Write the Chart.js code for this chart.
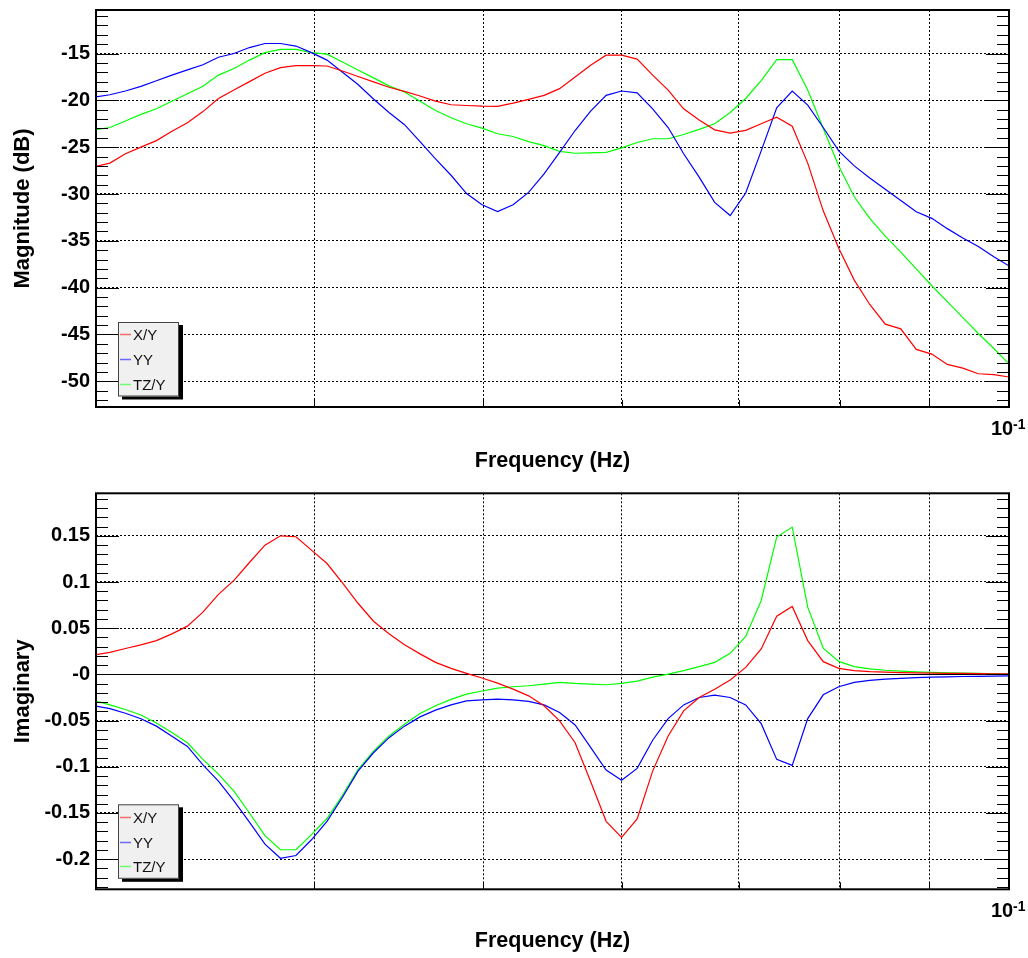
<!DOCTYPE html>
<html><head><meta charset="utf-8">
<script src="https://cdn.jsdelivr.net/npm/chart.js@4/dist/chart.umd.min.js"></script>
<style>
html,body{margin:0;padding:0;background:#fff;width:1028px;height:958px;overflow:hidden;}
canvas{display:block;position:absolute;left:0;}
#c1{top:0;}
#c2{top:480px;}
</style></head><body>
<canvas id="c1" width="1028" height="480"></canvas>
<canvas id="c2" width="1028" height="478"></canvas>
<script>
// ---- data ----
const freqHz = [0.029936,0.030554,0.031186,0.031830,0.032488,0.033159,0.033844,0.034543,0.035257,0.035985,
0.036728,0.037487,0.038262,0.039052,0.039859,0.040683,0.041523,0.042381,0.043256,0.044150,
0.045062,0.045993,0.046943,0.047913,0.048903,0.049913,0.050945,0.051997,0.053072,0.054168,
0.055287,0.056430,0.057596,0.058786,0.060000,0.061240,0.062505,0.063796,0.065114,0.066460,
0.067833,0.069234,0.070665,0.072125,0.073615,0.075136,0.076688,0.078273,0.079890,0.081541,
0.083225,0.084945,0.086700,0.088491,0.090320,0.092186,0.094091,0.096035,0.098019,0.100044];

const magXY = [-27.1,-26.7,-25.7,-25.0,-24.3,-23.3,-22.4,-21.2,-19.8,-18.9,
-18.0,-17.1,-16.5,-16.3,-16.3,-16.33,-16.87,-17.45,-18.03,-18.6,
-19.04,-19.54,-20.08,-20.47,-20.55,-20.62,-20.65,-20.3,-19.9,-19.47,
-18.75,-17.5,-16.25,-15.18,-15.18,-15.6,-17.3,-18.9,-20.9,-22.1,
-23.15,-23.5,-23.2,-22.5,-21.8,-22.76,-26.7,-31.8,-35.8,-39.2,
-41.8,-43.9,-44.4,-46.6,-47.1,-48.2,-48.6,-49.2,-49.3,-49.55];

const magYY = [-19.65,-19.4,-19.0,-18.5,-17.9,-17.3,-16.75,-16.2,-15.4,-15.0,
-14.36,-13.93,-13.93,-14.2,-14.9,-15.7,-17.0,-18.3,-19.85,-21.3,
-22.6,-24.4,-26.25,-28.0,-29.95,-31.15,-31.87,-31.15,-29.83,-27.86,
-25.55,-23.22,-21.15,-19.47,-19.0,-19.2,-20.9,-22.9,-25.7,-28.2,
-30.9,-32.3,-29.9,-25.4,-20.8,-19.0,-20.5,-22.9,-25.4,-27.0,
-28.3,-29.5,-30.7,-31.9,-32.6,-33.7,-34.7,-35.6,-36.7,-37.7];

const magTZY = [-23.15,-22.9,-22.2,-21.5,-20.9,-20.1,-19.3,-18.5,-17.3,-16.6,
-15.7,-14.9,-14.55,-14.55,-14.9,-15.07,-15.9,-16.75,-17.6,-18.45,
-19.1,-20.1,-21.08,-21.86,-22.5,-22.97,-23.57,-23.86,-24.4,-24.83,
-25.44,-25.65,-25.6,-25.55,-25.08,-24.5,-24.1,-24.1,-23.65,-23.1,
-22.5,-21.3,-19.8,-17.9,-15.65,-15.65,-18.9,-23.0,-27.0,-30.3,
-32.6,-34.5,-36.2,-38.0,-39.8,-41.5,-43.2,-44.9,-46.5,-48.2];

const imXY = [0.021,0.0239,0.028,0.032,0.0366,0.0439,0.0522,0.0674,0.0866,0.1018,
0.1211,0.1399,0.150,0.149,0.1345,0.120,0.099,0.077,0.0575,0.044,
0.032,0.0222,0.013,0.0065,0.0011,-0.0039,-0.0094,-0.0159,-0.0232,-0.034,
-0.0503,-0.0739,-0.116,-0.159,-0.1764,-0.1565,-0.1047,-0.0666,-0.0395,-0.025,
-0.016,-0.006,0.0076,0.0276,0.063,0.0736,0.0366,0.0138,0.0065,0.004,
0.003,0.0025,0.002,0.0017,0.0014,0.0012,0.001,0.0008,0.0007,0.0006];

const imYY = [-0.034,-0.037,-0.042,-0.048,-0.056,-0.067,-0.078,-0.098,-0.1155,-0.137,
-0.160,-0.1837,-0.199,-0.196,-0.179,-0.159,-0.133,-0.1047,-0.0848,-0.0685,
-0.056,-0.046,-0.0387,-0.033,-0.0286,-0.0275,-0.0268,-0.0275,-0.0293,-0.033,
-0.0413,-0.0547,-0.079,-0.1036,-0.1145,-0.1017,-0.0713,-0.0478,-0.033,-0.025,
-0.0224,-0.025,-0.033,-0.0533,-0.092,-0.0985,-0.0478,-0.0221,-0.0134,-0.0087,
-0.0065,-0.0052,-0.0043,-0.0036,-0.0029,-0.0026,-0.0023,-0.0021,-0.0019,-0.0017];

const imTZY = [-0.0286,-0.033,-0.038,-0.044,-0.0525,-0.063,-0.074,-0.092,-0.108,-0.1264,
-0.150,-0.1746,-0.1898,-0.1898,-0.1735,-0.156,-0.131,-0.103,-0.083,-0.0666,
-0.054,-0.0424,-0.034,-0.027,-0.0213,-0.018,-0.0148,-0.0134,-0.0123,-0.0105,
-0.0087,-0.0098,-0.0105,-0.0112,-0.0098,-0.0072,-0.003,0.0003,0.004,0.0084,
0.013,0.0228,0.041,0.080,0.1486,0.1594,0.0728,0.0283,0.0141,0.0084,
0.006,0.0045,0.0035,0.0028,0.0022,0.0017,0.0013,0.001,0.0007,0.0004];

const seriesLabels = ['X/Y','YY','TZ/Y'];
const xGridValues = [0.03,0.04,0.05,0.06,0.07,0.08,0.09,0.1];
const xMajorTickValues = [0.04,0.05,0.06,0.07,0.08,0.09];
const xTickLabelBase = '10', xTickLabelExp = '-1';
const yTicksTop = [-50,-45,-40,-35,-30,-25,-20,-15];
const yTickLabelsTop = ['-50','-45','-40','-35','-30','-25','-20','-15'];
const yTicksBottom = [-0.2,-0.15,-0.1,-0.05,0,0.05,0.1,0.15];
const yTickLabelsBottom = ['-0.2','-0.15','-0.1','-0.05','-0','0.05','0.1','0.15'];

// ---- styling ----
const FONT = "'Liberation Sans', Arial, Helvetica, sans-serif";
Chart.defaults.font.family = FONT;
Chart.defaults.color = '#000';
const COLORS = ['#ff0000','#0000ff','#00ff00'];
const LEG_COLORS = ['#ff6a6a','#6a6aff','#6aff6a'];

const rootPlugin = {
  id: 'rootFrame',
  beforeDatasetsDraw(chart, args, o) {
    if (!o.zeroLine) return;
    const {ctx, chartArea: a} = chart;
    const y = Math.round(chart.scales.y.getPixelForValue(0)) + 0.5;
    ctx.save();
    ctx.strokeStyle = '#000'; ctx.lineWidth = 1;
    ctx.beginPath(); ctx.moveTo(a.left, y); ctx.lineTo(a.right, y); ctx.stroke();
    ctx.restore();
  },
  afterDatasetsDraw(chart, args, o) {
    const {ctx, chartArea: a} = chart;
    const ys = chart.scales.y, xs = chart.scales.x;
    ctx.save();
    ctx.strokeStyle = '#000'; ctx.lineWidth = 1;
    ctx.beginPath();
    const minorStart = Math.ceil(ys.min / o.minorStep - 1e-9);
    const minorEnd = Math.floor(ys.max / o.minorStep + 1e-9);
    for (let i = minorStart; i <= minorEnd; i++) {
      const v = i * o.minorStep;
      const isMajor = Math.abs(Math.round(v / o.majorStep) * o.majorStep - v) < o.minorStep * 1e-3;
      const len = isMajor ? 23 : 12;
      const y = Math.round(ys.getPixelForValue(v)) + 0.5;
      ctx.moveTo(a.left, y); ctx.lineTo(a.left + len, y);
      ctx.moveTo(a.right, y); ctx.lineTo(a.right - len, y);
    }
    xMajorTickValues.forEach(v => {
      const x = Math.round(xs.getPixelForValue(v)) + 0.5;
      ctx.moveTo(x, a.bottom); ctx.lineTo(x, a.bottom - 7);
    });
    ctx.stroke();
    ctx.lineWidth = 2;
    ctx.strokeRect(a.left, a.top, a.right - a.left, a.bottom - a.top);
    const xr = xs.getPixelForValue(0.1);
    ctx.fillStyle = '#000';
    ctx.textBaseline = 'alphabetic'; ctx.textAlign = 'left';
    ctx.font = 'bold 20px ' + FONT;
    ctx.fillText(xTickLabelBase, xr - 18, a.bottom + 28);
    ctx.font = 'bold 14px ' + FONT;
    ctx.fillText(xTickLabelExp, xr + 4, a.bottom + 21.5);
    // legend
    const lx = a.left + 22, lw = 61, lh = 74.5, ly = a.bottom - 10.5 - lh;
    ctx.fillStyle = '#000';
    ctx.fillRect(lx + 4, ly + 3, lw, lh);
    ctx.fillStyle = '#f0f0f0';
    ctx.fillRect(lx, ly, lw, lh);
    ctx.lineWidth = 1; ctx.strokeStyle = '#444';
    ctx.strokeRect(lx + 0.5, ly + 0.5, lw - 1, lh - 1);
    ctx.font = '15px ' + FONT; ctx.textBaseline = 'middle';
    seriesLabels.forEach((lab, i) => {
      const ry = Math.round(ly + lh * (2 * i + 1) / 6) + 0.5;
      ctx.strokeStyle = LEG_COLORS[i]; ctx.lineWidth = 1.5;
      ctx.beginPath(); ctx.moveTo(lx + 2, ry); ctx.lineTo(lx + 13, ry); ctx.stroke();
      ctx.fillStyle = '#111';
      ctx.fillText(lab, lx + 15, ry + 1);
    });
    ctx.restore();
  }
};

function makeChart(id, cfg) {
  const sets = cfg.values.map((vals, si) => ({
    label: seriesLabels[si],
    data: freqHz.map((f, i) => ({x: f, y: vals[i]})),
    borderColor: COLORS[si], borderWidth: 1.2, pointRadius: 0, tension: 0, fill: false
  }));
  const gridOpts = {color: '#000', lineWidth: 1, drawTicks: false};
  const borderOpts = {display: false, dash: [2, 2]};
  return new Chart(document.getElementById(id), {
    type: 'line',
    data: {datasets: sets},
    options: {
      responsive: false, animation: false, devicePixelRatio: 1,
      layout: {padding: {left: 0, right: 19, top: cfg.padTop, bottom: 0}},
      plugins: {legend: {display: false}, tooltip: {enabled: false},
        rootFrame: {minorStep: cfg.minorStep, majorStep: cfg.majorStep, zeroLine: cfg.zeroLine}},
      scales: {
        x: {type: 'logarithmic', min: 0.03, max: 0.1,
          afterBuildTicks: s => { s.ticks = xGridValues.map(v => ({value: v})); },
          afterFit: s => { s.height = cfg.xAxisHeight; s.paddingLeft = 0; s.paddingRight = 0; },
          ticks: {display: false},
          grid: gridOpts, border: borderOpts,
          title: {display: true, text: 'Frequency (Hz)', color: '#000',
            font: {family: FONT, size: 21.5, weight: 'bold'}, padding: {top: 0, bottom: cfg.xTitlePad}}},
        y: {type: 'linear', min: cfg.yMin, max: cfg.yMax,
          afterBuildTicks: s => { s.ticks = cfg.yTicks.map(v => ({value: v})); },
          afterFit: s => { s.width = 96; s.paddingTop = 0; s.paddingBottom = 0; },
          ticks: {color: '#000', padding: 6, font: {family: FONT, size: 20, weight: 'bold'},
            callback: v => cfg.yLabels[cfg.yTicks.findIndex(t => Math.abs(t - v) < 1e-9)]},
          grid: gridOpts, border: borderOpts,
          title: {display: true, text: cfg.yTitle, color: '#000',
            font: {family: FONT, size: 22, weight: 'bold'}, padding: {top: 10, bottom: 0}}}
      }
    },
    plugins: [rootPlugin]
  });
}

makeChart('c1', {values: [magXY, magYY, magTZY], yMin: -52.75, yMax: -10.35,
  yTicks: yTicksTop, yLabels: yTickLabelsTop, yTitle: 'Magnitude (dB)',
  padTop: 10, xAxisHeight: 73, xTitlePad: 6.5, minorStep: 1, majorStep: 5, zeroLine: false});
makeChart('c2', {values: [imXY, imYY, imTZY], yMin: -0.2326, yMax: 0.196,
  yTicks: yTicksBottom, yLabels: yTickLabelsBottom, yTitle: 'Imaginary',
  padTop: 13.3, xAxisHeight: 68.7, xTitlePad: 4.5, minorStep: 0.01, majorStep: 0.05, zeroLine: true});
</script>
</body></html>
